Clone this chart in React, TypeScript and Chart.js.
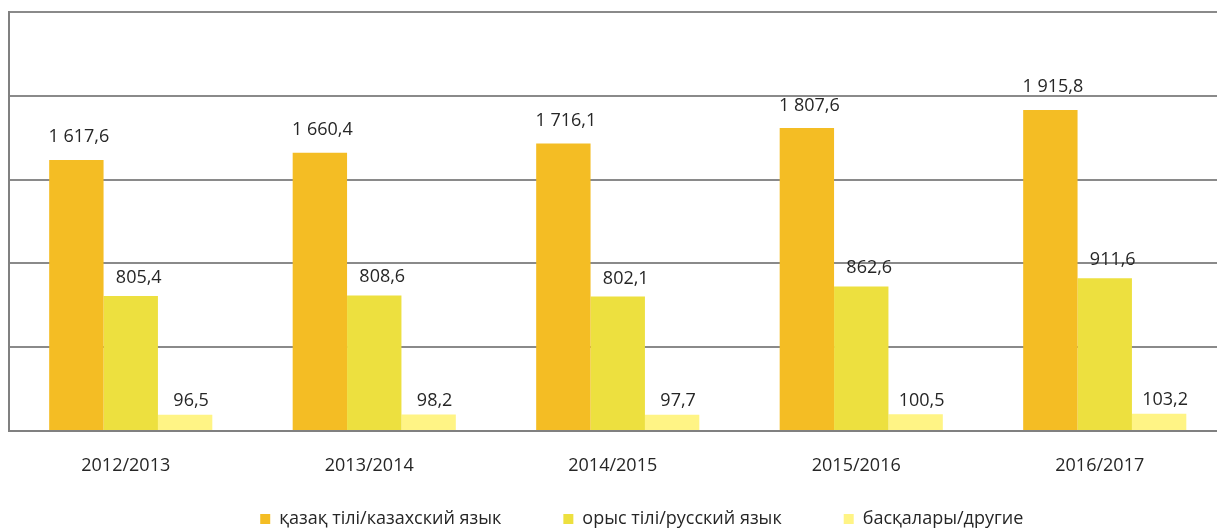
import React, { useEffect, useRef } from "react";
import { Chart, registerables } from "chart.js";

Chart.register(...registerables);

const categories = ["2012/2013", "2013/2014", "2014/2015", "2015/2016", "2016/2017"];
const kazakhValues = [1617.6, 1660.4, 1716.1, 1807.6, 1915.8];
const russianValues = [805.4, 808.6, 802.1, 862.6, 911.6];
const otherValues = [96.5, 98.2, 97.7, 100.5, 103.2];
const seriesNames = ["қазақ тілі/казахский язык", "орыс тілі/русский язык", "басқалары/другие"];
const seriesColors = ["#F4BD24", "#EDE03F", "#FFF485"];
const yMin = 0;
const yMax = 2500;
const yStep = 500;

const FONT = '"Open Sans", "Noto Sans", sans-serif';

// label placement relative to each bar top (per series)
const labelDx = [2.5, 8, 6];
const labelGap = [17.5, 13, 8.5];

function formatValue(v: number): string {
  const [i, d] = v.toFixed(1).split(".");
  return i.replace(/\B(?=(\d{3})+(?!\d))/g, " ") + "," + d;
}

const valueLabels = {
  id: "valueLabels",
  afterDatasetsDraw(chart: any) {
    const ctx = chart.ctx;
    ctx.save();
    ctx.font = `18px ${FONT}`;
    ctx.fillStyle = "#262626";
    ctx.textAlign = "center";
    ctx.textBaseline = "alphabetic";
    chart.data.datasets.forEach((ds: any, di: number) => {
      const meta = chart.getDatasetMeta(di);
      meta.data.forEach((el: any, i: number) => {
        ctx.fillText(formatValue(ds.data[i]), el.x + labelDx[di], el.y - labelGap[di]);
      });
    });
    ctx.restore();
  },
};

// place the legend row where the reference has it (its box may overlap the x-axis box)
const legendPlace = {
  id: "legendPlace",
  afterLayout(chart: any) {
    const lg = chart.legend;
    if (lg) {
      lg.top = 448;
      lg.bottom = 530;
      lg.height = 82;
      lg.left += 24;
      lg.right += 24;
    }
  },
};

export default function App() {
  const ref = useRef<HTMLCanvasElement | null>(null);

  useEffect(() => {
    if (!ref.current) return;
    const chart = new Chart(ref.current, {
      type: "bar",
      data: {
        labels: categories,
        datasets: [
          { label: seriesNames[0], data: kazakhValues, backgroundColor: seriesColors[0], borderWidth: 0 },
          { label: seriesNames[1], data: russianValues, backgroundColor: seriesColors[1], borderWidth: 0 },
          { label: seriesNames[2], data: otherValues, backgroundColor: seriesColors[2], borderWidth: 0 },
        ],
      },
      options: {
        responsive: false,
        animation: false,
        devicePixelRatio: 1,
        datasets: {
          bar: { categoryPercentage: 0.67, barPercentage: 1 },
        },
        layout: { padding: { left: 9, right: 13.5, top: 12, bottom: 0 } },
        scales: {
          x: {
            grid: { display: false, drawTicks: false },
            border: { display: true, color: "#808080", width: 2 },
            ticks: { font: { family: FONT, size: 18 }, color: "#262626", padding: 24, labelOffset: -5, maxRotation: 0 },
            afterFit: (s: any) => {
              s.height = 70;
            },
          },
          y: {
            min: yMin,
            max: yMax,
            ticks: { display: false, stepSize: yStep },
            grid: { color: "#8a8a8a", lineWidth: 2, drawTicks: false },
            border: { display: true, color: "#808080", width: 2 },
            afterFit: (s: any) => {
              s.width = 0;
            },
          },
        },
        plugins: {
          legend: {
            position: "bottom",
            maxHeight: 29,
            labels: {
              boxWidth: 10,
              boxHeight: 10,
              padding: 62,
              font: { family: FONT, size: 18 },
              color: "#262626",
            },
          },
          tooltip: { enabled: false },
        },
      },
      plugins: [valueLabels, legendPlace],
    } as any);
    return () => chart.destroy();
  }, []);

  return (
    <div
      style={{
        position: "fixed",
        left: 0,
        top: 0,
        width: 1217,
        height: 530,
        overflow: "hidden",
        background: "#fff",
      }}
    >
      <canvas ref={ref} width={1240} height={530} style={{ display: "block", width: 1240, height: 530 }} />
    </div>
  );
}
